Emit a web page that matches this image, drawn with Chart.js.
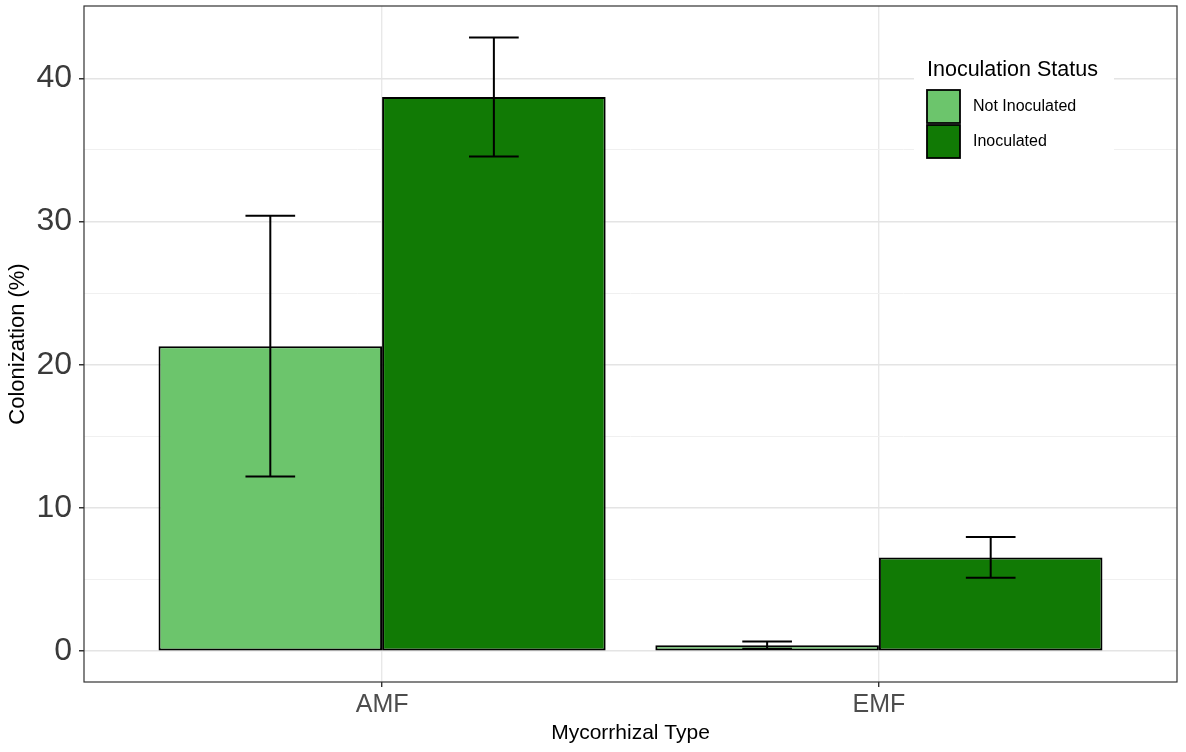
<!DOCTYPE html>
<html>
<head>
<meta charset="utf-8">
<script src="https://cdn.jsdelivr.net/npm/chart.js@4.4.0/dist/chart.umd.min.js"></script>
<style>
    html, body { margin: 0; padding: 0; background: #fff; }
    #wrap { width: 1186px; height: 752px; }
</style>
</head>
<body>
<div id="wrap"><canvas id="myChart"></canvas></div>
<script>
// Data
var categories = ['AMF', 'EMF'];
var categoryPos = [1, 2];
var seriesNames = ['Not Inoculated', 'Inoculated'];
var notInoculated = [21.3, 0.42];
var inoculated = [38.7, 6.55];
var notInoculatedErr = [9.1, 0.25];
var inoculatedErr = [4.15, 1.42];
var yMajorTicks = [0, 10, 20, 30, 40];
var yMinorTicks = [5, 15, 25, 35];

var lightGreen = '#6cc56c';
var darkGreen = '#117a05';
var fontFamily = '"Liberation Sans", Arial, sans-serif';

function toPoints(values) {
    return values.map((v, i) => ({ x: categoryPos[i], y: v }));
}

// Error bars with caps, drawn over the bars
const errorBars = {
    id: 'errorBars',
    afterDatasetsDraw(chart) {
        const ctx = chart.ctx;
        const xs = chart.scales.x, ys = chart.scales.y;
        const errs = [notInoculatedErr, inoculatedErr];
        const capHalf = xs.getPixelForValue(1.05) - xs.getPixelForValue(1);
        ctx.save();
        ctx.strokeStyle = '#000';
        ctx.lineWidth = 2;
        chart.data.datasets.forEach((ds, i) => {
            chart.getDatasetMeta(i).data.forEach((bar, j) => {
                const v = ds.data[j].y, e = errs[i][j];
                const yTop = ys.getPixelForValue(v + e);
                const yBot = ys.getPixelForValue(v - e);
                ctx.beginPath();
                ctx.moveTo(bar.x, yTop); ctx.lineTo(bar.x, yBot);
                ctx.moveTo(bar.x - capHalf, yTop); ctx.lineTo(bar.x + capHalf, yTop);
                ctx.moveTo(bar.x - capHalf, yBot); ctx.lineTo(bar.x + capHalf, yBot);
                ctx.stroke();
            });
        });
        ctx.restore();
    }
};

// Panel border and the legend inside the plot (ggplot style)
const panelAndLegend = {
    id: 'panelAndLegend',
    afterDraw(chart) {
        const ctx = chart.ctx, a = chart.chartArea;
        ctx.save();
        ctx.strokeStyle = '#333';
        ctx.lineWidth = 1.2;
        ctx.strokeRect(a.left, a.top, a.right - a.left, a.bottom - a.top);

        const lx = a.right - 250, ly = a.top + 44;
        ctx.fillStyle = '#fff';
        ctx.fillRect(lx - 13, ly, 200, 118);

        ctx.fillStyle = '#000';
        ctx.font = '21.5px ' + fontFamily;
        ctx.textBaseline = 'alphabetic';
        ctx.fillText('Inoculation Status', lx, ly + 26);

        const colors = [lightGreen, darkGreen];
        ctx.font = '16px ' + fontFamily;
        ctx.textBaseline = 'middle';
        chart.data.datasets.forEach((ds, i) => {
            const ky = ly + 40 + i * 35;
            ctx.fillStyle = colors[i];
            ctx.fillRect(lx, ky, 33, 33);
            ctx.strokeStyle = '#000';
            ctx.lineWidth = 1.8;
            ctx.strokeRect(lx, ky, 33, 33);
            ctx.fillStyle = '#000';
            ctx.fillText(ds.label, lx + 46, ky + 17);
        });
        ctx.restore();
    }
};

let ctx = document.getElementById('myChart').getContext('2d');
let myChart = new Chart(ctx, {
    type: 'bar',
    data: {
        datasets: [
            {
                label: seriesNames[0],
                data: toPoints(notInoculated),
                backgroundColor: lightGreen,
                borderColor: '#000',
                borderWidth: 2,
                borderSkipped: false
            },
            {
                label: seriesNames[1],
                data: toPoints(inoculated),
                backgroundColor: darkGreen,
                borderColor: '#000',
                borderWidth: 2,
                borderSkipped: false
            }
        ]
    },
    options: {
        responsive: true,
        maintainAspectRatio: false,
        animation: false,
        barPercentage: 1,
        categoryPercentage: 0.9,
        layout: { padding: { left: 0, right: 9, top: 6, bottom: 0 } },
        plugins: {
            legend: { display: false },
            tooltip: { enabled: false }
        },
        scales: {
            x: {
                type: 'linear',
                min: 0.4,
                max: 2.6,
                offset: false,
                afterBuildTicks: function(scale) {
                    scale.ticks = categoryPos.map(v => ({ value: v }));
                },
                afterFit: function(scale) {
                    scale.height = 70;
                    scale.paddingLeft = 0;
                    scale.paddingRight = 0;
                },
                ticks: {
                    callback: function(value) {
                        return categories[categoryPos.indexOf(value)];
                    },
                    font: { family: fontFamily, size: 25 },
                    color: '#4d4d4d',
                    padding: 3,
                    maxRotation: 0
                },
                grid: {
                    offset: false,
                    color: '#e8e8e8',
                    lineWidth: 1.4,
                    tickLength: 5,
                    tickColor: '#333'
                },
                border: { display: false },
                title: {
                    display: true,
                    text: 'Mycorrhizal Type',
                    font: { family: fontFamily, size: 21 },
                    color: '#000',
                    padding: { top: 0, bottom: 6 }
                }
            },
            y: {
                min: -2.15,
                max: 45.05,
                afterBuildTicks: function(scale) {
                    scale.ticks = yMajorTicks.concat(yMinorTicks)
                        .sort((p, q) => p - q)
                        .map(v => ({ value: v }));
                },
                afterFit: function(scale) {
                    scale.width = 84;
                    scale.paddingTop = 0;
                    scale.paddingBottom = 0;
                },
                ticks: {
                    callback: function(value) {
                        return yMajorTicks.indexOf(value) >= 0 ? value : '';
                    },
                    font: { family: fontFamily, size: 32 },
                    color: '#3a3a3a',
                    padding: 7
                },
                grid: {
                    color: function(c) {
                        return yMajorTicks.indexOf(c.tick.value) >= 0 ? '#e4e4e4' : '#f0f0f0';
                    },
                    lineWidth: function(c) {
                        return yMajorTicks.indexOf(c.tick.value) >= 0 ? 1.5 : 1;
                    },
                    tickLength: 5,
                    tickColor: function(c) {
                        return yMajorTicks.indexOf(c.tick.value) >= 0 ? '#333' : 'rgba(0,0,0,0)';
                    }
                },
                border: { display: false },
                title: {
                    display: true,
                    text: 'Colonization (%)',
                    font: { family: fontFamily, size: 22 },
                    color: '#000',
                    padding: { top: 5, bottom: 0 }
                }
            }
        }
    },
    plugins: [errorBars, panelAndLegend]
});
</script>
</body>
</html>
